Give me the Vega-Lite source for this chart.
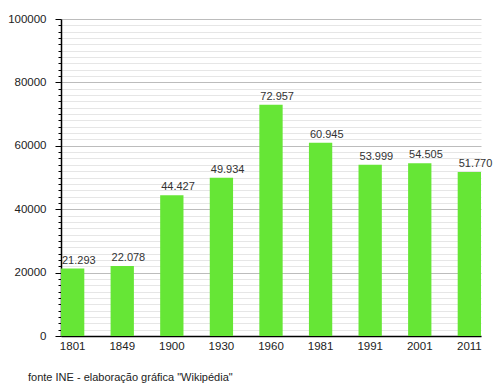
{
  "$schema": "https://vega.github.io/schema/vega-lite/v6.json",
  "width": 420,
  "height": 317,
  "autosize": "none",
  "padding": {"left": 61, "top": 19, "right": 12, "bottom": 49},
  "data": {
    "values": [
      {"ano": "1801", "populacao": 21293},
      {"ano": "1849", "populacao": 22078},
      {"ano": "1900", "populacao": 44427},
      {"ano": "1930", "populacao": 49934},
      {"ano": "1960", "populacao": 72957},
      {"ano": "1981", "populacao": 60945},
      {"ano": "1991", "populacao": 53999},
      {"ano": "2001", "populacao": 54505},
      {"ano": "2011", "populacao": 51770}
    ]
  },
  "title": {
    "text": "fonte INE - elaboração gráfica \"Wikipédia\"",
    "orient": "bottom",
    "anchor": "start",
    "frame": "group",
    "dx": -33,
    "offset": 20,
    "font": "Liberation Sans",
    "fontSize": 11,
    "fontWeight": "normal",
    "color": "#222222"
  },
  "encoding": {
    "x": {
      "field": "ano",
      "type": "ordinal",
      "sort": null,
      "scale": {"paddingInner": 0.53, "paddingOuter": 0},
      "axis": {
        "title": null,
        "labelAngle": 0,
        "ticks": false,
        "labelPadding": 4,
        "domainColor": "#000000",
        "domainWidth": 1.5
      }
    },
    "y": {
      "field": "populacao",
      "type": "quantitative",
      "scale": {"domain": [0, 100000], "nice": false},
      "axis": {
        "title": null,
        "tickCount": 50,
        "labelExpr": "datum.value % 20000 === 0 ? format(datum.value, 'd') : ''",
        "labelPadding": 9,
        "grid": true,
        "gridColor": {"condition": {"test": "datum.value % 20000 === 0", "value": "#bcbcbc"}, "value": "#e6e6e6"},
        "tickSize": {"condition": {"test": "datum.value % 20000 === 0", "value": 6}, "value": 3},
        "tickColor": "#000000",
        "domainColor": "#000000",
        "domainWidth": 1.5
      }
    }
  },
  "layer": [
    {
      "mark": {"type": "bar", "color": "#66e636"}
    },
    {
      "mark": {"type": "text", "align": "left", "baseline": "alphabetic", "dy": -5, "dx": 1, "color": "#333333"},
      "encoding": {
        "x": {"field": "ano", "type": "ordinal", "sort": null, "bandPosition": 0},
        "text": {"field": "populacao", "type": "quantitative", "format": ",d"}
      }
    }
  ],
  "config": {
    "locale": {
      "number": {"decimal": ",", "thousands": ".", "grouping": [3], "currency": ["", " €"]}
    },
    "view": {"stroke": null},
    "font": "Liberation Sans",
    "axis": {
      "labelFont": "Liberation Sans",
      "labelFontSize": 11.5,
      "labelColor": "#222222"
    },
    "text": {"font": "Liberation Sans", "fontSize": 11}
  }
}
